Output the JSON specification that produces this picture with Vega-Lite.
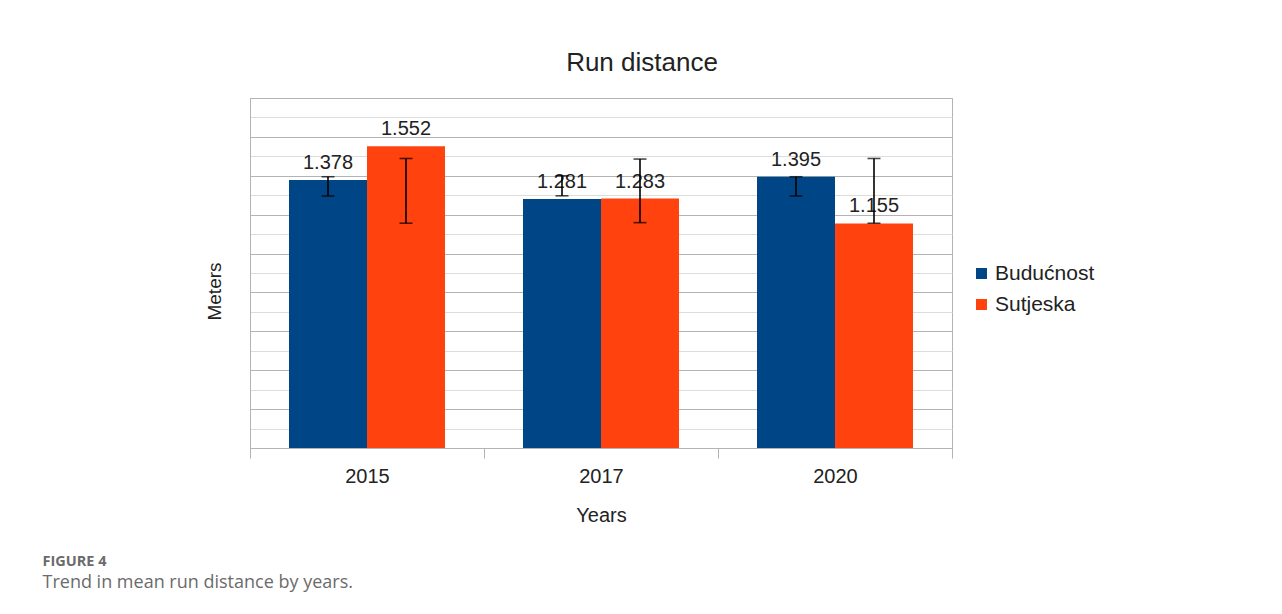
{
  "$schema": "https://vega.github.io/schema/vega-lite/v6.json",
  "padding": {"left": 42, "top": 49, "right": 0, "bottom": 0},
  "background": "white",
  "config": {"font": "Liberation Sans", "view": {"stroke": "#b3b3b3"}},
  "title": {
    "text": "FIGURE 4",
    "subtitle": "Trend in mean run distance by years.",
    "orient": "bottom",
    "anchor": "start",
    "dx": -162,
    "offset": 29,
    "font": "Open Sans",
    "fontSize": 14.5,
    "fontWeight": "bold",
    "color": "#6b6b6b",
    "subtitleFont": "Open Sans",
    "subtitleFontSize": 18,
    "subtitleColor": "#6b6b6b",
    "subtitlePadding": 5
  },
  "vconcat": [
    {
      "width": 702,
      "height": 350,
      "title": {"text": "Run distance", "fontSize": 26, "fontWeight": "normal", "color": "#222222", "offset": 22, "anchor": "middle", "dx": 41},
      "data": {
        "values": [
          {"year": "2015", "team": "Budućnost", "value": 1.378, "lo": 1.296, "hi": 1.395},
          {"year": "2015", "team": "Sutjeska", "value": 1.552, "lo": 1.156, "hi": 1.489},
          {"year": "2017", "team": "Budućnost", "value": 1.281, "lo": 1.297, "hi": 1.400},
          {"year": "2017", "team": "Sutjeska", "value": 1.283, "lo": 1.159, "hi": 1.486},
          {"year": "2020", "team": "Budućnost", "value": 1.395, "lo": 1.296, "hi": 1.395},
          {"year": "2020", "team": "Sutjeska", "value": 1.155, "lo": 1.156, "hi": 1.489}
        ]
      },
      "encoding": {
        "x": {
          "field": "year",
          "type": "nominal",
          "scale": {"paddingInner": 0, "paddingOuter": 0},
          "axis": {
            "title": "Years",
            "labelAngle": 0,
            "tickBand": "extent",
            "tickSize": 10,
            "tickColor": "#b3b3b3",
            "domainColor": "#b3b3b3",
            "labelFontSize": 20,
            "labelColor": "#222222",
            "labelPadding": 8,
            "titleFontSize": 20,
            "titleFontWeight": "normal",
            "titleColor": "#222222",
            "titlePadding": 19
          }
        },
        "xOffset": {"field": "team", "type": "nominal", "scale": {"paddingInner": 0, "paddingOuter": 0.5}}
      },
      "layer": [
        {
          "mark": {"type": "bar"},
          "encoding": {
            "y": {
              "field": "value",
              "type": "quantitative",
              "scale": {"domain": [0, 1.8], "nice": false},
              "axis": {
                "title": "Meters",
                "labels": false,
                "ticks": false,
                "tickCount": 40,
                "values": [0, 0.1, 0.2, 0.3, 0.4, 0.5, 0.6, 0.7, 0.8, 0.9, 1.0, 1.1, 1.2, 1.3, 1.4, 1.5, 1.6, 1.7, 1.8],
                "gridColor": {"condition": {"test": "round(datum.value * 10) % 2 === 0", "value": "#b3b3b3"}, "value": "#dddddd"},
                "gridOpacity": 1,
                "domainColor": "#b3b3b3",
                "titleFontSize": 19,
                "titleFontWeight": "normal",
                "titleColor": "#222222",
                "titlePadding": 26,
                "titleY": 193
              }
            },
            "color": {
              "field": "team",
              "type": "nominal",
              "scale": {"domain": ["Budućnost", "Sutjeska"], "range": ["#004586", "#ff420e"]},
              "legend": {
                "orient": "none",
                "legendX": 721,
                "legendY": 165,
                "title": null,
                "symbolType": "square",
                "symbolSize": 121,
                "symbolStrokeWidth": 0,
                "labelFontSize": 21,
                "labelColor": "#222222",
                "labelOffset": 3,
                "rowPadding": 9,
                "padding": 0
              }
            }
          }
        },
        {
          "mark": {"type": "text", "baseline": "bottom", "dy": -7, "fontSize": 20, "color": "#222222"},
          "encoding": {
            "y": {"field": "value", "type": "quantitative"},
            "text": {"field": "value", "type": "quantitative", "format": ".3f"}
          }
        },
        {
          "mark": {"type": "rule", "color": "black", "strokeWidth": 1.6},
          "encoding": {
            "y": {"field": "lo", "type": "quantitative"},
            "y2": {"field": "hi"}
          }
        },
        {
          "mark": {"type": "tick", "color": "black", "thickness": 1.6, "size": 13, "orient": "horizontal"},
          "encoding": {"y": {"field": "lo", "type": "quantitative"}}
        },
        {
          "mark": {"type": "tick", "color": "black", "thickness": 1.6, "size": 13, "orient": "horizontal"},
          "encoding": {"y": {"field": "hi", "type": "quantitative"}}
        }
      ]
    }
  ]
}
